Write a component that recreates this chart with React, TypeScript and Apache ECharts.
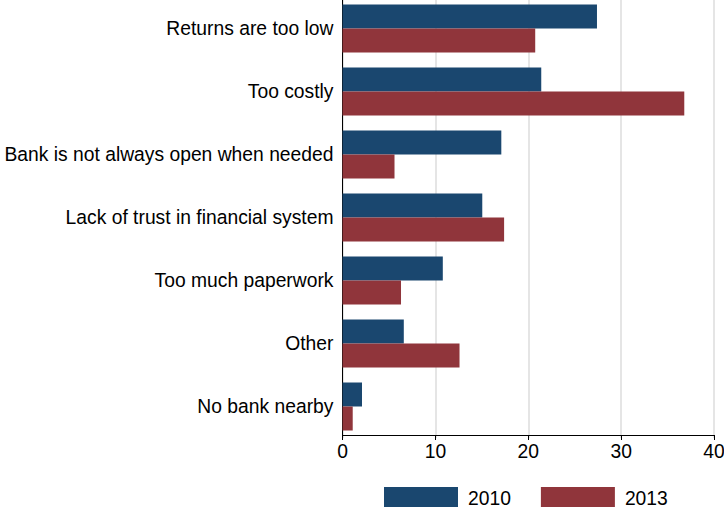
import React, { useEffect, useRef } from "react";
import * as echarts from "echarts";

const categories = [
  "Returns are too low",
  "Too costly",
  "Bank is not always open when needed",
  "Lack of trust in financial system",
  "Too much paperwork",
  "Other",
  "No bank nearby",
];
const values2010 = [27.4, 21.4, 17.1, 15.05, 10.8, 6.6, 2.1];
const values2013 = [20.75, 36.8, 5.6, 17.4, 6.3, 12.6, 1.1];
const xTicks = [0, 10, 20, 30, 40];

export default function App() {
  const ref = useRef<HTMLDivElement>(null);
  useEffect(() => {
    if (!ref.current) return;
    const chart = echarts.init(ref.current, null, { renderer: "svg" });
    const font = "'Liberation Sans', Arial, sans-serif";
    chart.setOption({
      animation: false,
      backgroundColor: "#ffffff",
      textStyle: { fontFamily: font },
      grid: {
        left: 342.5,
        right: 10,
        top: -3,
        height: 441,
        containLabel: false,
        outerBoundsMode: "none",
      },
      legend: {
        left: 384,
        top: 487,
        padding: 0,
        itemWidth: 74,
        itemHeight: 22,
        itemGap: 30,
        icon: "rect",
        textStyle: { fontSize: 19.3, color: "#000", fontFamily: font, padding: [0, 0, 0, 5] },
        data: ["2010", "2013"],
      },
      xAxis: {
        type: "value",
        min: xTicks[0],
        max: xTicks[xTicks.length - 1],
        interval: 10,
        offset: -3,
        axisLine: { show: true, lineStyle: { color: "#000", width: 1 } },
        axisTick: { show: true, length: 5, lineStyle: { color: "#000" } },
        axisLabel: { fontSize: 19.3, color: "#000", margin: 7, fontFamily: font },
        splitLine: { show: true, lineStyle: { color: "#dcdcdc", width: 1.5 } },
      },
      yAxis: {
        type: "category",
        data: categories,
        inverse: true,
        axisLine: { show: true, lineStyle: { color: "#000", width: 1 } },
        axisTick: { show: false },
        axisLabel: { fontSize: 19.3, color: "#000", margin: 9, fontFamily: font },
      },
      series: [
        {
          name: "2010",
          type: "bar",
          data: values2010,
          barWidth: 24,
          barGap: "0%",
          itemStyle: { color: "#1a476f" },
        },
        {
          name: "2013",
          type: "bar",
          data: values2013,
          barWidth: 24,
          barGap: "0%",
          itemStyle: { color: "#90353b" },
        },
      ],
    });
    return () => chart.dispose();
  }, []);
  return (
    <div
      ref={ref}
      style={{ position: "fixed", left: 0, top: 0, width: 724, height: 507 }}
    />
  );
}
